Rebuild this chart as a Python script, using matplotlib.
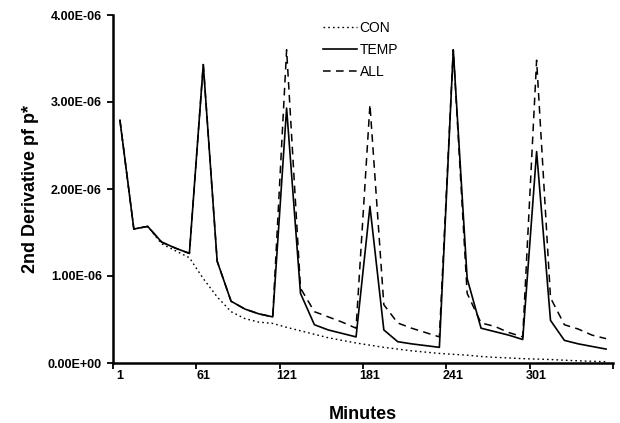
import matplotlib
matplotlib.use("Agg")
import matplotlib.pyplot as plt
from matplotlib.ticker import FuncFormatter, FixedLocator

plt.rcParams['font.family'] = ['Liberation Sans', 'DejaVu Sans']

minutes = [1, 11, 21, 31, 41, 51, 61, 71, 81, 91, 101, 111,
           121, 131, 141, 151, 161, 171, 181, 191, 201, 211, 221, 231,
           241, 251, 261, 271, 281, 291, 301, 311, 321, 331, 341, 351]

con = [2.79, 1.54, 1.57, 1.37, 1.29, 1.21, 0.97, 0.76, 0.59, 0.51, 0.47, 0.455,
       0.41, 0.37, 0.33, 0.29, 0.26, 0.23, 0.205, 0.18, 0.16, 0.14, 0.125, 0.11,
       0.10, 0.09, 0.075, 0.065, 0.058, 0.05, 0.045, 0.04, 0.032, 0.025, 0.02, 0.015]
temp = [2.79, 1.54, 1.57, 1.39, 1.32, 1.26, 3.43, 1.17, 0.71, 0.62, 0.565, 0.53,
        2.93, 0.80, 0.44, 0.38, 0.34, 0.30, 1.80, 0.38, 0.245, 0.22, 0.20, 0.18,
        3.60, 0.97, 0.40, 0.36, 0.32, 0.27, 2.43, 0.49, 0.26, 0.22, 0.19, 0.16]
all_ = [2.79, 1.54, 1.57, 1.39, 1.32, 1.26, 3.43, 1.17, 0.71, 0.62, 0.565, 0.53,
        3.60, 0.86, 0.59, 0.53, 0.47, 0.40, 2.97, 0.67, 0.46, 0.40, 0.35, 0.30,
        3.60, 0.80, 0.46, 0.42, 0.35, 0.30, 3.48, 0.75, 0.44, 0.39, 0.32, 0.28]
scale = 1e-6

tick_labels = ['1', '61', '121', '181', '241', '301']
y_ticks = [0, 1e-6, 2e-6, 3e-6, 4e-6]

fig = plt.figure(figsize=(6.2, 4.23), dpi=100)
ax = fig.add_axes([113/620, 60/423, 500/620, 348/423])

x = list(range(len(minutes)))
ax.plot(x, [v*scale for v in con], color='black', lw=1.0, linestyle=(0, (1.2, 2.2)), label='CON')
ax.plot(x, [v*scale for v in temp], color='black', lw=1.2, linestyle='-', label='TEMP')
ax.plot(x, [v*scale for v in all_], color='black', lw=1.1, linestyle=(0, (5, 3.5)), label='ALL')

ax.set_xlim(-0.5, len(minutes) - 0.5)
ax.set_ylim(0, 4e-6)

# major ticks at category boundaries every 6 categories
ax.xaxis.set_major_locator(FixedLocator([i - 0.5 for i in range(0, len(minutes) + 1, 6)]))
ax.xaxis.set_major_formatter(FuncFormatter(lambda v, p: ''))
label_pos = [minutes.index(int(t)) for t in tick_labels]
ax.xaxis.set_minor_locator(FixedLocator(label_pos))
ax.set_xticklabels(tick_labels, minor=True)
ax.tick_params(axis='x', which='minor', length=0, pad=5, labelsize=9)
ax.tick_params(axis='x', which='major', length=4, width=1.3, direction='out', color='black')
for t in ax.get_xticklabels(minor=True):
    t.set_fontweight('bold')

ax.set_yticks(y_ticks)
ax.yaxis.set_major_formatter(FuncFormatter(lambda v, p: f"{v:.2E}"))
ax.tick_params(axis='y', length=4, width=1.3, direction='out', labelsize=9, pad=4)
for t in ax.get_yticklabels():
    t.set_fontweight('bold')

for s in ['top', 'right']:
    ax.spines[s].set_visible(False)
for s in ['left', 'bottom']:
    ax.spines[s].set_linewidth(1.8)

ax.set_xlabel('Minutes', fontsize=13, fontweight='bold', labelpad=17)
ax.set_ylabel('2nd Derivative pf p*', fontsize=13, fontweight='bold', labelpad=6)

ax.legend(loc='upper left', bbox_to_anchor=(0.4, 1.01), frameon=False, fontsize=10,
          handlelength=2.5, handletextpad=0.15, labelspacing=0.55, borderaxespad=0.3)

fig.savefig('out.png', dpi=100)
